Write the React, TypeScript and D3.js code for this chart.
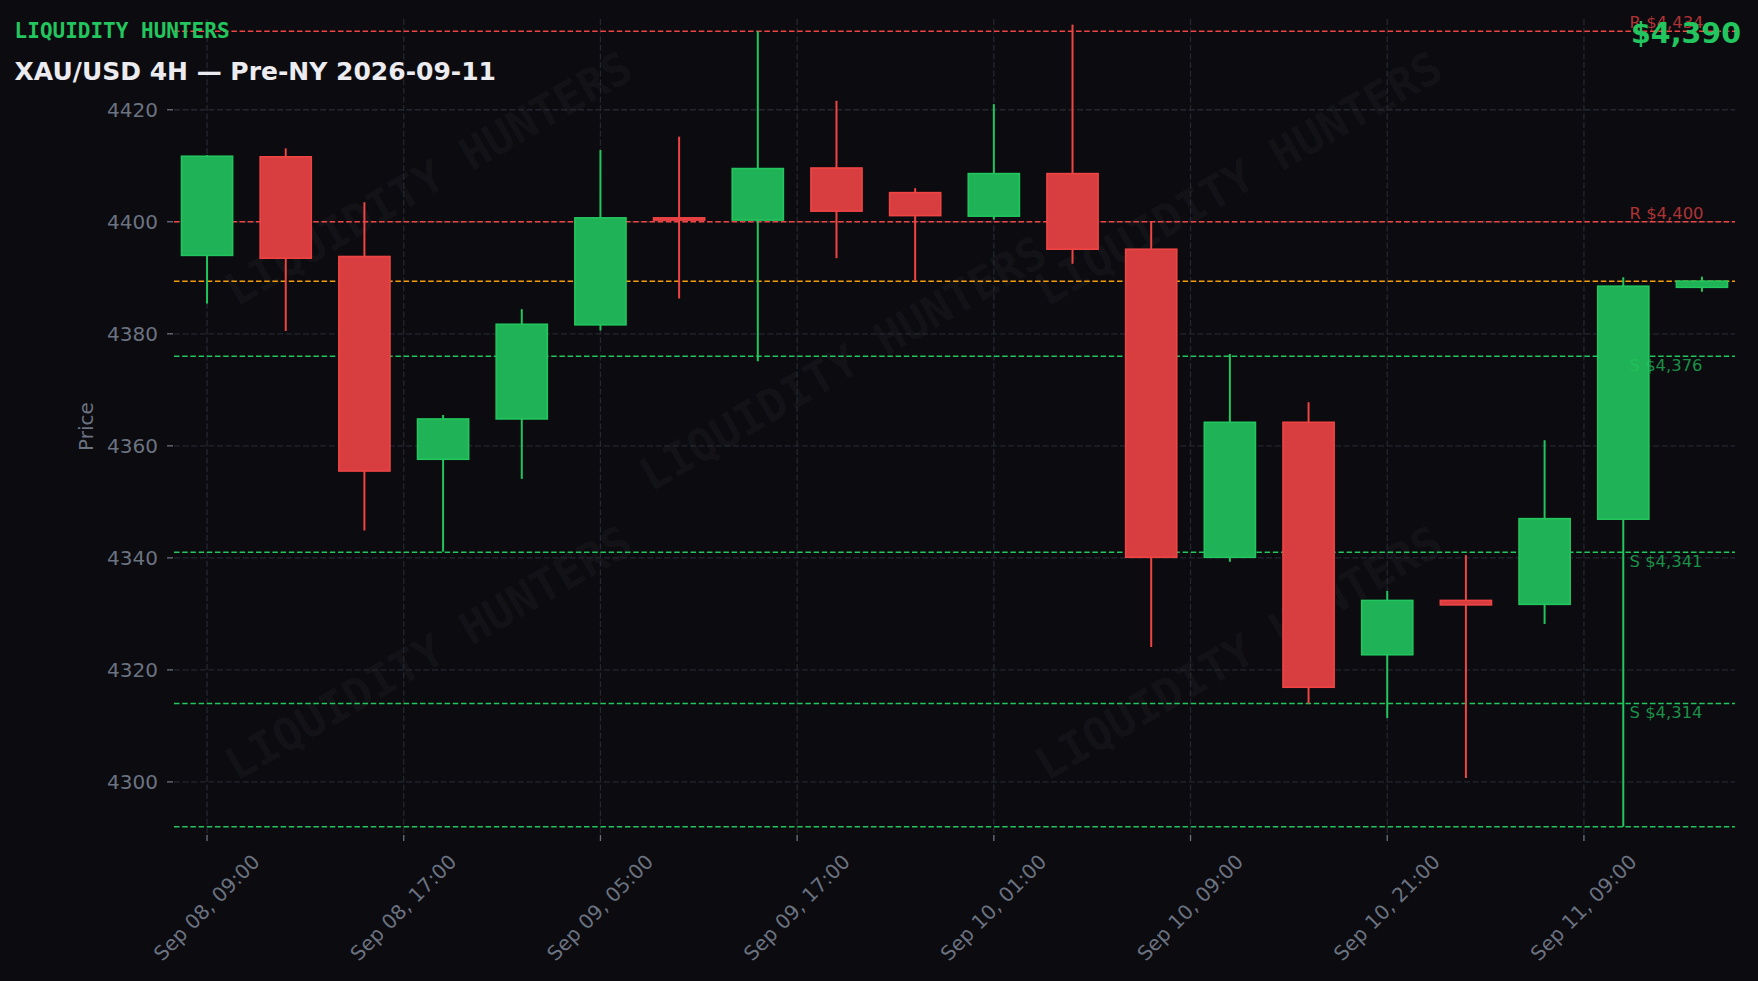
import React from "react";
import * as d3 from "d3";

// ---------- data ----------
const opens = [4394.0, 4411.6, 4393.8, 4357.6, 4364.8, 4381.6, 4400.7, 4400.3, 4409.6, 4405.2, 4401.0, 4408.6, 4395.1, 4340.1, 4364.2, 4322.7, 4332.4, 4331.7, 4346.9, 4388.3];
const highs = [4411.9, 4413.1, 4403.5, 4365.5, 4384.4, 4412.8, 4415.2, 4434.0, 4421.6, 4406.0, 4421.0, 4435.2, 4400.0, 4376.4, 4367.8, 4334.1, 4340.5, 4361.0, 4390.1, 4390.2];
const lows = [4385.4, 4380.5, 4344.9, 4341.1, 4354.1, 4380.6, 4386.3, 4375.1, 4393.5, 4389.5, 4400.4, 4392.5, 4324.1, 4339.3, 4314.0, 4311.4, 4300.7, 4328.2, 4292.0, 4387.5];
const closes = [4411.7, 4393.5, 4355.5, 4364.8, 4381.7, 4400.7, 4400.3, 4409.5, 4401.9, 4401.1, 4408.6, 4395.1, 4340.1, 4364.2, 4316.9, 4332.4, 4331.6, 4347.0, 4388.5, 4389.4];

const xTickIndex = [0, 2.5, 5, 7.5, 10, 12.5, 15, 17.5];
const xTickLabels = ["Sep 08, 09:00", "Sep 08, 17:00", "Sep 09, 05:00", "Sep 09, 17:00", "Sep 10, 01:00", "Sep 10, 09:00", "Sep 10, 21:00", "Sep 11, 09:00"];
const yTicks = [4300, 4320, 4340, 4360, 4380, 4400, 4420];

const resistanceLevels = [4434, 4400];
const supportLevels = [4376, 4341, 4314];
const swingLowLevel = [4292];
const currentPrice = 4389.4;

const brand = "LIQUIDITY HUNTERS";
const title = "XAU/USD 4H — Pre-NY 2026-09-11";
const priceText = "$4,390";

// watermark positions in plot fractions
const watermarkFx = [0.163, 0.4286, 0.682, 0.163, 0.682];
const watermarkFy = [0.196, 0.423, 0.196, 0.778, 0.778];

// ---------- style ----------
const W = 1758;
const H = 981;
const M = { left: 174, right: 1735, top: 19, bottom: 834 };
const BG = "#0b0b10";
const GREEN = "#22c55e";
const GREEN_FILL = "#20b256";
const RED = "#ef4444";
const RED_FILL = "#d83e3f";
const ORANGE = "#f59e0b";
const GRID = "#262630";
const TICK_TXT = "#6b7280";
const SANS = "'DejaVu Sans', sans-serif";
const MONO = "'DejaVu Sans Mono', monospace";
const LEVEL_LABEL_INDEX = 18.08;

export default function App() {
  const n = opens.length;
  const x = d3.scaleLinear().domain([-0.42, n - 0.58]).range([M.left, M.right]);
  const y = d3.scaleLinear().domain([4290.7, 4436.2]).range([M.bottom, M.top]);
  const step = x(1) - x(0);
  const bodyW = step * 0.65;

  const candles = d3.range(n).map((i) => {
    const up = closes[i] >= opens[i];
    const cx = x(i);
    const yt = y(Math.max(opens[i], closes[i]));
    const yb = y(Math.min(opens[i], closes[i]));
    return (
      <g key={i}>
        <line x1={cx} x2={cx} y1={y(highs[i])} y2={y(lows[i])} stroke={up ? GREEN : RED} strokeWidth={2} />
        <rect
          x={cx - bodyW / 2}
          y={yt}
          width={bodyW}
          height={Math.max(yb - yt, 1)}
          fill={up ? GREEN_FILL : RED_FILL}
          stroke={up ? GREEN : RED}
          strokeWidth={1.6}
        />
      </g>
    );
  });

  const pw = M.right - M.left;
  const ph = M.bottom - M.top;

  return (
    <svg width={W} height={H} style={{ position: "absolute", left: 0, top: 0, display: "block" }}>
      <rect x={0} y={0} width={W} height={H} fill={BG} />

      {/* watermarks */}
      {watermarkFx.map((fx, i) => {
        const wx = M.left + fx * pw;
        const wy = M.top + watermarkFy[i] * ph;
        return (
          <text
            key={"wm" + i}
            transform={`translate(${wx},${wy}) rotate(-30)`}
            textAnchor="middle"
            dominantBaseline="central"
            fontFamily={MONO}
            fontWeight="bold"
            fontSize={45}
            fill="#ffffff"
            fillOpacity={0.045}
          >
            {brand}
          </text>
        );
      })}

      {/* grid */}
      {yTicks.map((t) => (
        <line key={"gy" + t} x1={M.left} x2={M.right} y1={y(t)} y2={y(t)} stroke={GRID} strokeWidth={1.3} strokeDasharray="6,2.6" />
      ))}
      {xTickIndex.map((t) => (
        <line key={"gx" + t} x1={x(t)} x2={x(t)} y1={M.top} y2={M.bottom} stroke={GRID} strokeWidth={1.3} strokeDasharray="6,2.6" />
      ))}

      {/* y axis */}
      {yTicks.map((t) => (
        <g key={"yt" + t}>
          <line x1={M.left - 7} x2={M.left - 1} y1={y(t)} y2={y(t)} stroke={TICK_TXT} strokeWidth={1.3} />
          <text x={M.left - 16} y={y(t)} dy="0.36em" textAnchor="end" fontFamily={SANS} fontSize={20} fill={TICK_TXT}>
            {t}
          </text>
        </g>
      ))}
      <text
        transform={`translate(86,${(M.top + M.bottom) / 2}) rotate(-90)`}
        textAnchor="middle"
        dominantBaseline="central"
        fontFamily={SANS}
        fontSize={20}
        fill={TICK_TXT}
      >
        Price
      </text>

      {/* x axis */}
      {xTickIndex.map((t, i) => (
        <g key={"xt" + t}>
          <line x1={x(t)} x2={x(t)} y1={M.bottom + 1} y2={M.bottom + 7} stroke={TICK_TXT} strokeWidth={1.3} />
          <text
            transform={`translate(${x(t) + 54},863) rotate(-45)`}
            textAnchor="end"
            fontFamily={SANS}
            fontSize={20}
            fill={TICK_TXT}
          >
            {xTickLabels[i]}
          </text>
        </g>
      ))}

      {/* level lines */}
      {resistanceLevels.map((v) => (
        <line key={"r" + v} x1={M.left} x2={M.right} y1={y(v)} y2={y(v)} stroke={RED} strokeWidth={1.5} strokeDasharray="5.5,2.7" />
      ))}
      {supportLevels.concat(swingLowLevel).map((v) => (
        <line key={"s" + v} x1={M.left} x2={M.right} y1={y(v)} y2={y(v)} stroke={GREEN} strokeWidth={1.5} strokeDasharray="5.5,2.7" />
      ))}
      <line x1={M.left} x2={M.right} y1={y(currentPrice)} y2={y(currentPrice)} stroke={ORANGE} strokeWidth={1.5} strokeDasharray="5.5,2.7" />

      {/* candles */}
      {candles}

      {/* level labels */}
      {resistanceLevels.map((v) => (
        <text key={"rl" + v} x={x(LEVEL_LABEL_INDEX)} y={y(v) - 3} fontFamily={SANS} fontSize={16.4} fill={RED} fillOpacity={0.72}>
          {"R $" + d3.format(",")(v)}
        </text>
      ))}
      {supportLevels.map((v) => (
        <text key={"sl" + v} x={x(LEVEL_LABEL_INDEX)} y={y(v) + 15} fontFamily={SANS} fontSize={16.4} fill={GREEN} fillOpacity={0.72}>
          {"S $" + d3.format(",")(v)}
        </text>
      ))}

      {/* header */}
      <text x={14.6} y={38} fontFamily={MONO} fontWeight="bold" fontSize={21} fill={GREEN}>
        {brand}
      </text>
      <text x={14.6} y={80} fontFamily={SANS} fontWeight="bold" fontSize={25} fill="#ebebf0">
        {title}
      </text>
      <text x={1741} y={43} textAnchor="end" fontFamily={SANS} fontWeight="bold" fontSize={28.5} fill={GREEN}>
        {priceText}
      </text>
    </svg>
  );
}
